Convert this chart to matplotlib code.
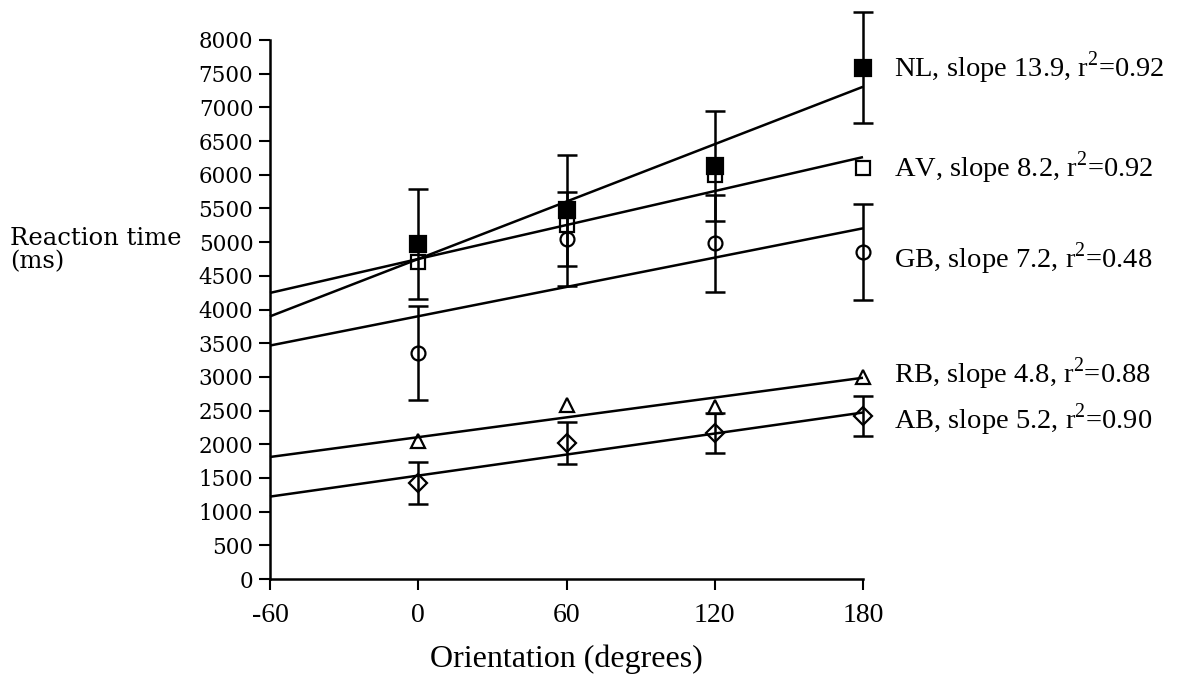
import numpy as np
import matplotlib
matplotlib.use("Agg")
import matplotlib.pyplot as plt

# orientation conditions (degrees)
orientation = [0, 60, 120, 180]

# mean reaction times (ms) per subject
nl_rt = [4970, 5470, 6130, 7590]
av_rt = [4700, 5250, 6000, 6100]
gb_rt = [3350, 5050, 4980, 4850]
rb_rt = [2050, 2580, 2550, 3000]
ab_rt = [1420, 2020, 2170, 2420]

# error bars (ms); AV and RB have none drawn
nl_err = [820, 830, 820, 820]
gb_err = [700, 700, 720, 710]
ab_err = [310, 310, 300, 300]

# regression lines as drawn (slope ms/deg, value at 0 deg)
fit_slope = [14.2, 8.4, 7.25, 4.9, 5.2]
fit_icept = [4750, 4750, 3900, 2105, 1535]

subjects = ["NL", "AV", "GB", "RB", "AB"]
slope_txt = ["13.9", "8.2", "7.2", "4.8", "5.2"]
r2_txt = ["0.92", "0.92", "0.48", "0.88", "0.90"]

x_ticks = [-60, 0, 60, 120, 180]
y_ticks = list(range(0, 8001, 500))

tick_font = "DejaVu Serif"
text_font = "Liberation Serif"
plt.rcParams["mathtext.fontset"] = "custom"
plt.rcParams["mathtext.rm"] = text_font

fig = plt.figure(figsize=(11.84, 6.79), dpi=100)
ax = fig.add_axes([270 / 1184, 1 - 579 / 679, (863 - 270) / 1184, (579 - 40) / 679])

# fitted lines across the full x range
xl = np.array([-60, 180])
for s, b in zip(fit_slope, fit_icept):
    ax.plot(xl, b + s * xl, color="black", lw=1.8, solid_capstyle="butt", clip_on=False)

# error bars
for rt, err in [(nl_rt, nl_err), (gb_rt, gb_err), (ab_rt, ab_err)]:
    ax.errorbar(orientation, rt, yerr=err, fmt="none", ecolor="black",
                elinewidth=1.8, capsize=7, capthick=1.8, clip_on=False)

# markers
mk = dict(ls="none", color="black", mew=1.6, clip_on=False, zorder=5)
ax.plot(orientation, nl_rt, marker="s", ms=11, mfc="black", **mk)
ax.plot(orientation, av_rt, marker="s", ms=10, mfc="none", **mk)
ax.plot(orientation, gb_rt, marker="o", ms=10, mfc="none", **mk)
ax.plot(orientation, rb_rt, marker="^", ms=10, mfc="none", **mk)
ax.plot(orientation, ab_rt, marker="D", ms=9, mfc="none", **mk)

# labels at the right end
last_vals = [nl_rt[-1], av_rt[-1], gb_rt[-1] - 90, rb_rt[-1] + 40, ab_rt[-1] - 60]
for name, sl, r2, yv in zip(subjects, slope_txt, r2_txt, last_vals):
    ax.annotate(f"{name}, slope {sl}, r$^{{2}}$={r2}", xy=(180, yv), xytext=(22, 0),
                textcoords="offset points", ha="left", va="center",
                fontsize=20.5, family=text_font, annotation_clip=False)

ax.set_xlim(-60, 180)
ax.set_ylim(0, 8000)
ax.set_xticks(x_ticks)
ax.set_yticks(y_ticks)
ax.set_xticklabels([str(v) for v in x_ticks], family=text_font, fontsize=20)
ax.set_yticklabels([str(v) for v in y_ticks], family=tick_font, fontsize=15.5)

for side in ["top", "right"]:
    ax.spines[side].set_visible(False)
for side in ["left", "bottom"]:
    ax.spines[side].set_linewidth(1.8)
ax.tick_params(axis="both", direction="out", width=1.5, length=8, pad=4)
ax.tick_params(axis="x", pad=9)

ax.set_xlabel("Orientation (degrees)", family=text_font, fontsize=23, labelpad=12)
fig.text(10 / 1184, 1 - 250 / 679, "Reaction time\n(ms)", family=tick_font, fontsize=17.5,
         ha="left", va="center", linespacing=1.05)

fig.savefig("out.png", dpi=100)
